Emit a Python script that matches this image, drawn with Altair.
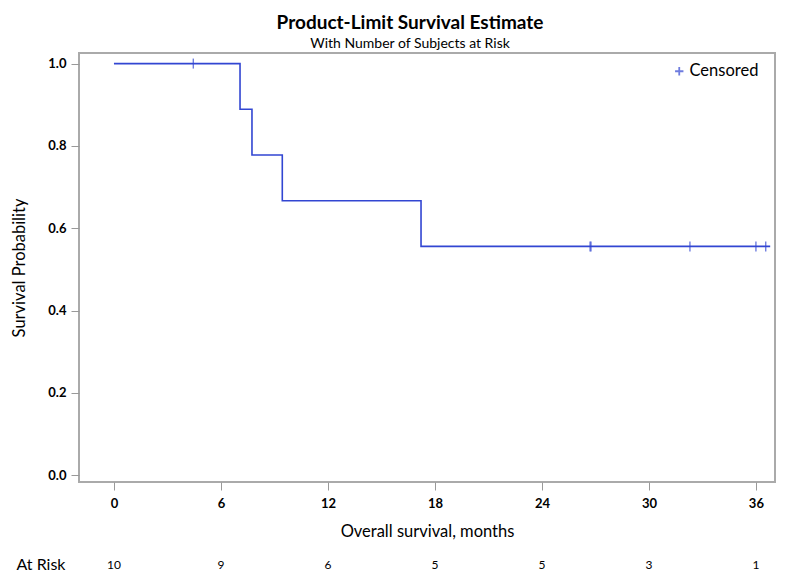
import altair as alt
import pandas as pd

# Kaplan-Meier step function (time in months, survival probability)
step_time = [0.0, 7.07, 7.74, 9.44, 17.22, 36.8]
step_surv = [1.0, 0.889, 0.778, 0.667, 0.556, 0.556]

# Censored observations
cens_time = [4.45, 26.7, 26.75, 32.3, 36.0, 36.55]
cens_surv = [1.0, 0.556, 0.556, 0.556, 0.556, 0.556]

# Number at risk
risk_time = [0, 6, 12, 18, 24, 30, 36]
risk_n = [10, 9, 6, 5, 5, 3, 1]

x_ticks = [0, 6, 12, 18, 24, 30, 36]
y_ticks = [0.0, 0.2, 0.4, 0.6, 0.8, 1.0]

FONT = "Lato"
BLUE = "#3246d2"
W, H = 696, 429

step_df = pd.DataFrame({"time": step_time, "surv": step_surv})
cens_df = pd.DataFrame({"time": cens_time, "surv": cens_surv, "type": ["Censored"] * len(cens_time)})
risk_df = pd.DataFrame({"time": risk_time, "n": [str(v) for v in risk_n]})

xscale = alt.Scale(domain=[-1.96, 37.07], nice=False, zero=False)
yscale = alt.Scale(domain=[-0.0163, 1.0257], nice=False, zero=False)

xaxis = alt.Axis(values=x_ticks, title="Overall survival, months", labelFont=FONT,
                 labelFontWeight="bold", labelFontSize=13, labelColor="#000",
                 titleFont=FONT, titleFontSize=16.5, titleFontWeight="normal", titleColor="#000",
                 tickColor="#999", tickSize=8, domain=False, grid=False, labelPadding=7,
                 titlePadding=13)
yaxis = alt.Axis(values=y_ticks, format=".1f", title="Survival Probability", labelFont=FONT,
                 labelFontWeight="bold", labelFontSize=13, labelColor="#000",
                 titleFont=FONT, titleFontSize=16.5, titleFontWeight="normal", titleColor="#000",
                 tickColor="#999", tickSize=8, domain=False, grid=False, labelPadding=5,
                 titlePadding=20)

line = alt.Chart(step_df).mark_line(interpolate="step-after", color=BLUE, strokeWidth=1.6).encode(
    x=alt.X("time:Q", scale=xscale, axis=xaxis),
    y=alt.Y("surv:Q", scale=yscale, axis=yaxis),
)

cens = alt.Chart(cens_df).mark_tick(orient="vertical", size=10, thickness=1.4).encode(
    x=alt.X("time:Q", scale=xscale),
    y=alt.Y("surv:Q", scale=yscale),
    color=alt.Color("type:N", scale=alt.Scale(range=[BLUE]),
                    legend=alt.Legend(title=None, orient="none", legendX=592, legendY=10,
                                      symbolType="M-1,0L1,0M0,-1L0,1", symbolStrokeWidth=1.8,
                                      symbolSize=70, symbolStrokeColor=BLUE,
                                      symbolFillColor="transparent", labelOffset=2,
                                      labelFont=FONT, labelFontSize=16.5, labelColor="#000")),
)

risk = alt.Chart(risk_df).mark_text(font=FONT, fontSize=12, color="#000", baseline="middle").encode(
    x=alt.X("time:Q", scale=xscale),
    y=alt.value(H + 83),
    text="n:N",
)

risk_label = alt.Chart(pd.DataFrame({"t": ["At Risk"]})).mark_text(
    font=FONT, fontSize=16, color="#000", baseline="middle", align="center").encode(
    x=alt.value(-38), y=alt.value(H + 83), text="t:N")

chart = alt.layer(line, cens, risk, risk_label).properties(
    width=W, height=H,
    padding={"left": 71, "top": 45, "right": 8, "bottom": 92},
    autosize=alt.AutoSizeParams(type="none"),
    title=alt.TitleParams("Product-Limit Survival Estimate",
                          subtitle="With Number of Subjects at Risk",
                          font=FONT, fontSize=19, fontWeight="bold", color="#000",
                          subtitleFont=FONT, subtitleFontSize=14, subtitleColor="#000",
                          anchor="middle", offset=2, subtitlePadding=4, dx=-17),
).configure(background="white").configure_view(stroke="#aaaaaa", strokeWidth=2)

chart.save("out.html", embed_options={"renderer": "svg", "actions": False})
